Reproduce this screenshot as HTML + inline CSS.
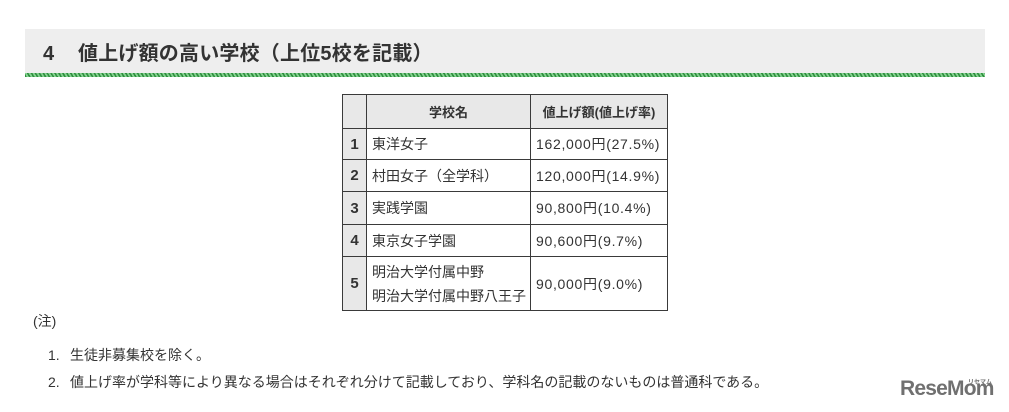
<!DOCTYPE html>
<html>
<head>
<meta charset="utf-8">
<style>
  html,body{margin:0;padding:0;background:#fff;}
  body{width:1009px;height:412px;position:relative;overflow:hidden;
    font-family:"Liberation Sans","Noto Sans CJK JP",sans-serif;color:#333;}
  .hbar{position:absolute;left:25px;top:29px;width:960px;height:44px;background:#eeeeee;}
  .stripe{position:absolute;left:25px;top:73px;width:960px;height:4px;
    background:repeating-linear-gradient(60deg,#2f8f3f 0px,#2f8f3f 1.6px,#86d291 1.6px,#86d291 3.4px);}
  .h4{position:absolute;left:43px;top:40px;font-size:20px;font-weight:bold;line-height:28px;color:#333;}
  .htitle{position:absolute;left:78px;top:40px;font-size:20px;font-weight:bold;line-height:28px;color:#333;letter-spacing:0.2px;}
  table{position:absolute;left:342px;top:94px;border-collapse:collapse;table-layout:fixed;width:325px;}
  td{border:1px solid #3a3a3a;padding:0;font-size:14px;color:#333;vertical-align:middle;}
  .hd td{background:#e8e8e8;font-weight:bold;font-size:13px;text-align:center;}
  td.n{background:#e8e8e8;font-weight:bold;font-size:15px;text-align:center;}
  td.s{padding-left:5px;}
  td.v{padding-left:5px;letter-spacing:0.7px;font-size:14px;}
  .note{position:absolute;font-size:14px;line-height:20px;color:#333;white-space:nowrap;}
  .logo{position:absolute;left:900px;top:377px;font-size:21px;font-weight:bold;color:#707070;letter-spacing:-0.8px;line-height:24px;}
  .logo small{position:absolute;left:68px;top:-6px;font-size:6px;letter-spacing:0;}
</style>
</head>
<body>
  <div class="hbar"></div>
  <div class="stripe"></div>
  <div class="h4">4</div>
  <div class="htitle">値上げ額の高い学校（上位5校を記載）</div>

  <table>
    <colgroup><col style="width:24px"><col style="width:164px"><col style="width:137px"></colgroup>
    <tr class="hd" style="height:34px"><td></td><td>学校名</td><td>値上げ額(値上げ率)</td></tr>
    <tr style="height:31px"><td class="n">1</td><td class="s">東洋女子</td><td class="v">162,000円(27.5%)</td></tr>
    <tr style="height:32px"><td class="n">2</td><td class="s">村田女子（全学科）</td><td class="v">120,000円(14.9%)</td></tr>
    <tr style="height:33px"><td class="n">3</td><td class="s">実践学園</td><td class="v">90,800円(10.4%)</td></tr>
    <tr style="height:32px"><td class="n">4</td><td class="s">東京女子学園</td><td class="v">90,600円(9.7%)</td></tr>
    <tr style="height:54px"><td class="n">5</td><td class="s" style="line-height:24px">明治大学付属中野<br>明治大学付属中野八王子</td><td class="v">90,000円(9.0%)</td></tr>
  </table>

  <div class="note" style="left:33px;top:311px;">(注)</div>
  <div class="note" style="left:48px;top:345px;">1.</div>
  <div class="note" style="left:70px;top:345px;">生徒非募集校を除く。</div>
  <div class="note" style="left:48px;top:372px;">2.</div>
  <div class="note" style="left:70px;top:372px;">値上げ率が学科等により異なる場合はそれぞれ分けて記載しており、学科名の記載のないものは普通科である。</div>

  <div class="logo">ReseMom<small>リセマム</small></div>
</body>
</html>
